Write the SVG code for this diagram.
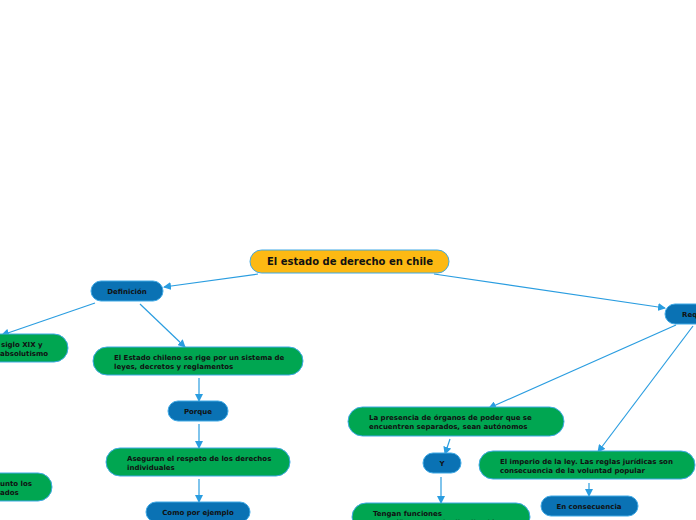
<svg xmlns="http://www.w3.org/2000/svg" width="696" height="520" viewBox="0 0 696 520">
<style>
.g{fill:#00a651;stroke:#3fa9e6;stroke-width:1}
.b{fill:#0a72b4;stroke:#3fa9e6;stroke-width:1}
.y{fill:#fdb913;stroke:#3fa9e6;stroke-width:1}
text{font-family:"DejaVu Sans",sans-serif;font-weight:bold;font-size:7px;fill:#111}
.c{text-anchor:middle}
.e line{stroke:#2a9de0;stroke-width:1.2;marker-end:url(#a)}
</style>
<defs><marker id="a" markerWidth="8" markerHeight="8" refX="7" refY="4" orient="auto" markerUnits="userSpaceOnUse"><path d="M0,0L8,4L0,8z" fill="#2a9de0"/></marker></defs>
<rect width="696" height="520" fill="#fff"/>
<g class="e">
<line x1="258" y1="274" x2="164" y2="287"/>
<line x1="95" y1="303" x2="2" y2="335"/>
<line x1="140" y1="304" x2="185" y2="347"/>
<line x1="199" y1="378" x2="199" y2="401"/>
<line x1="199" y1="424" x2="199" y2="448"/>
<line x1="199" y1="479" x2="199" y2="502"/>
<line x1="434" y1="274" x2="665" y2="308"/>
<line x1="676" y1="325" x2="489" y2="408"/>
<line x1="693" y1="326" x2="598" y2="452"/>
<line x1="450" y1="439" x2="445" y2="454"/>
<line x1="441" y1="477" x2="441" y2="503"/>
<line x1="589" y1="483" x2="589" y2="496"/>
</g>
<g id="root"><rect class="y" x="250" y="250" width="199" height="23" rx="11.5"/><text class="c" x="350" y="265" style="font-size:10px">El estado de derecho en chile</text></g>
<g id="def"><rect class="b" x="91" y="281" width="72" height="20" rx="10"/><text class="c" x="127" y="294">Definición</text></g>
<g id="req"><rect class="b" x="665" y="304" width="60" height="20" rx="10"/><text x="682" y="317">Requisitos</text></g>
<g id="siglo"><rect class="g" x="-80" y="334" width="148" height="28" rx="14"/><text x="1" y="347">siglo XIX y</text><text x="0" y="356">absolutismo</text></g>
<g id="estado"><rect class="g" x="93" y="347" width="210" height="28" rx="14"/><text x="114" y="360">El Estado chileno se rige por un sistema de</text><text x="114" y="369">leyes, decretos y reglamentos</text></g>
<g id="porque"><rect class="b" x="168" y="401" width="60" height="20" rx="10"/><text class="c" x="198" y="414">Porque</text></g>
<g id="aseguran"><rect class="g" x="106" y="448" width="184" height="28" rx="14"/><text x="127" y="461">Aseguran el respeto de los derechos</text><text x="127" y="470">individuales</text></g>
<g id="como"><rect class="b" x="146" y="502" width="104" height="20" rx="10"/><text class="c" x="198" y="515">Como por ejemplo</text></g>
<g id="conjunto"><rect class="g" x="-80" y="473" width="132" height="28" rx="14"/><text x="0" y="486">unto los</text><text x="0" y="495">ados</text></g>
<g id="presencia"><rect class="g" x="348" y="407" width="216" height="29" rx="14.5"/><text x="369" y="420">La presencia de órganos de poder que se</text><text x="369" y="429">encuentren separados, sean autónomos</text></g>
<g id="yn"><rect class="b" x="423" y="453" width="38" height="20" rx="10"/><text class="c" x="442" y="466">Y</text></g>
<g id="imperio"><rect class="g" x="479" y="451" width="216" height="28" rx="14"/><text x="500" y="464">El imperio de la ley. Las reglas jurídicas son</text><text x="500" y="473">consecuencia de la voluntad popular</text></g>
<g id="encons"><rect class="b" x="541" y="496" width="97" height="20" rx="10"/><text class="c" x="589" y="509">En consecuencia</text></g>
<g id="tengan"><rect class="g" x="352" y="503" width="178" height="28" rx="14"/><text x="373" y="516">Tengan funciones</text><text x="373" y="525">específicas y que la distribución</text></g>
</svg>
